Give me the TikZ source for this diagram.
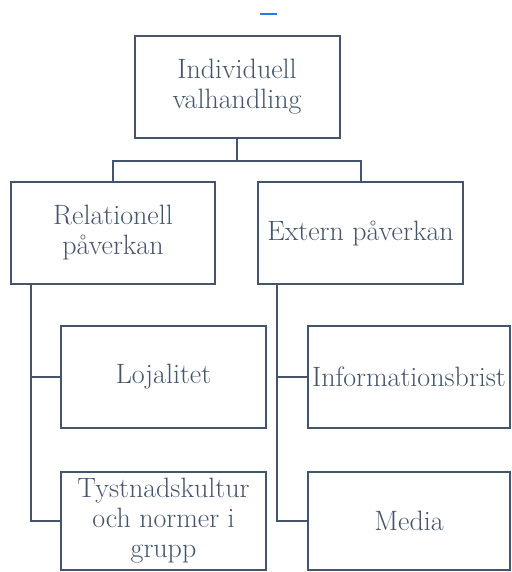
\documentclass[tikz,border=0pt]{standalone}
\usepackage{fontspec}
\definecolor{ink}{HTML}{44546A}
\definecolor{dashblue}{HTML}{2A7BE4}
\begin{document}
\begin{tikzpicture}[x=1pt,y=-1pt,
  box/.style={draw=ink,line width=2pt,rectangle,minimum width=205pt,minimum height=102pt,
    inner sep=0pt,align=center,text=ink,font=\rmfamily\fontsize{28}{30}\selectfont\addfontfeatures{FakeBold=0.5}},
  conn/.style={draw=ink,line width=2pt}]
\useasboundingbox (0,0) rectangle (511,572);
\draw[dashblue,line width=2pt] (260,14.5) -- (277,14.5);
\node[box] (top) at (237,87) {Individuell\\valhandling};
\node[box,minimum width=204pt] (rel) at (113,233) {Relationell\\påverkan};
\node[box] (ext) at (360.5,233) {Extern påverkan};
\node[box] (loj) at (163.5,377) {Lojalitet};
\node[box,minimum height=98pt] (tys) at (163.5,521) {Tystnadskultur\\och normer i\\grupp};
\node[box,minimum width=202pt] (inf) at (409,377) {Informationsbrist};
\node[box,minimum width=202pt,minimum height=98pt] (med) at (409,521) {Media};
\draw[conn] (top.south) -- ++(0,22) -| (rel.north);
\draw[conn] (top.south) -- ++(0,22) -| (ext.north);
\coordinate (tl) at ([xshift=21pt]rel.south west);
\coordinate (tr) at ([xshift=20pt]ext.south west);
\draw[conn] (tl) |- (loj.west);
\draw[conn] (tl) |- (tys.west);
\draw[conn] (tr) |- (inf.west);
\draw[conn] (tr) |- (med.west);
\end{tikzpicture}
\end{document}
